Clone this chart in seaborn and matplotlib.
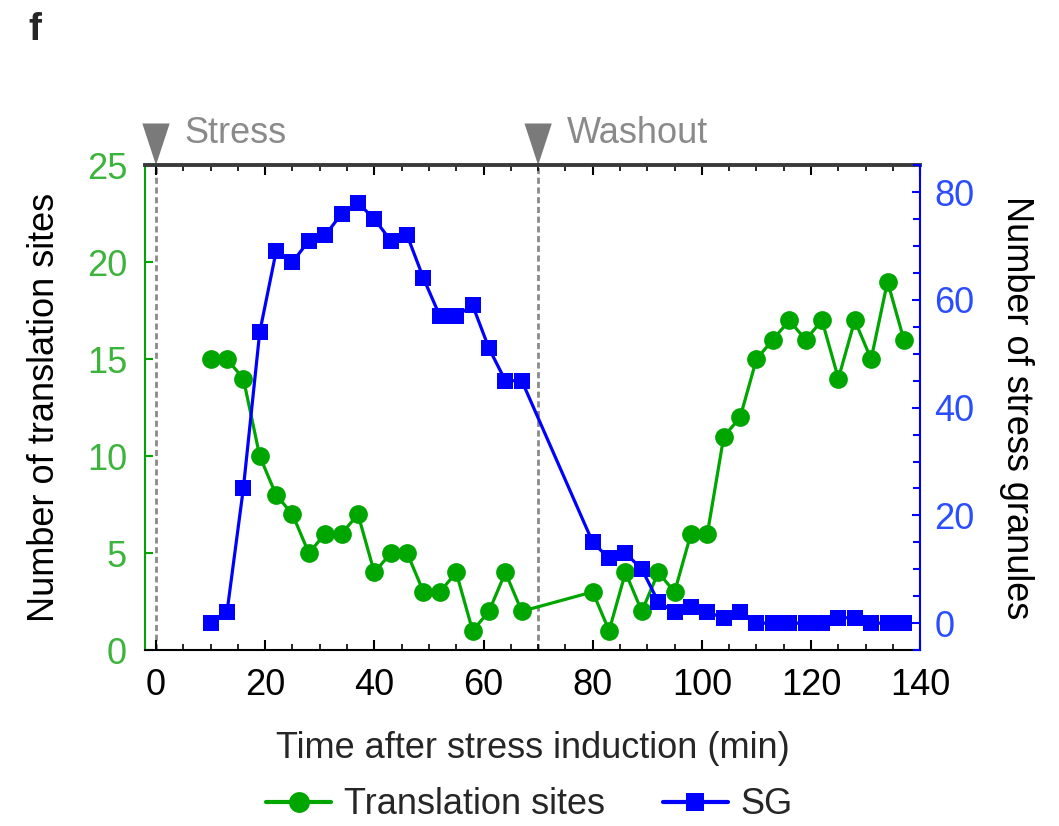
import numpy as np
import pandas as pd
import matplotlib
matplotlib.use("Agg")
import matplotlib.pyplot as plt
import matplotlib.transforms as mtransforms
from matplotlib.patches import Polygon
from matplotlib.ticker import MultipleLocator
from matplotlib.lines import Line2D
import seaborn as sns

# Data (minutes after stress induction)
time_min = [10, 13, 16, 19, 22, 25, 28, 31, 34, 37, 40, 43, 46, 49, 52, 55, 58, 61, 64, 67,
            80, 83, 86, 89, 92, 95, 98, 101, 104, 107, 110, 113, 116, 119, 122, 125, 128, 131, 134, 137]
translation_sites = [15, 15, 14, 10, 8, 7, 5, 6, 6, 7, 4, 5, 5, 3, 3, 4, 1, 2, 4, 2,
                     3, 1, 4, 2, 4, 3, 6, 6, 11, 12, 15, 16, 17, 16, 17, 14, 17, 15, 19, 16]
stress_granules = [0, 2, 25, 54, 69, 67, 71, 72, 76, 78, 75, 71, 72, 64, 57, 57, 59, 51, 45, 45,
                   15, 12, 13, 10, 4, 2, 3, 2, 1, 2, 0, 0, 0, 0, 0, 1, 1, 0, 0, 0]
events = [0, 70]
event_labels = ["Stress", "Washout"]

GREEN = "#00a600"
GREEN_TXT = "#3cb43c"
BLUE = "#0000ff"
BLUE_TXT = "#2a4dff"
GRAY = "#8a8a8a"
FS = 26

sns.set_theme(style="ticks")
plt.rcParams["font.family"] = ["Liberation Sans", "DejaVu Sans"]

df = pd.DataFrame({"time": time_min, "ts": translation_sites, "sg": stress_granules})

fig = plt.figure(figsize=(10.59, 8.26), dpi=100)
ax = fig.add_axes([0.137, 0.213, 0.732, 0.587])
ax2 = ax.twinx()

# event markers (dashed lines)
for ev in events:
    ax.axvline(ev, color=GRAY, lw=2, ls=(0, (2.2, 1.3)), zorder=0)

sns.lineplot(data=df, x="time", y="ts", ax=ax, color=GREEN, lw=2.3,
             marker="o", markersize=13.5, markeredgewidth=0, zorder=3)
sns.lineplot(data=df, x="time", y="sg", ax=ax2, color=BLUE, lw=2.3,
             marker="s", markersize=11.5, markeredgewidth=0, zorder=3)

ax.set_xlim(-2, 140)
ax.set_ylim(0, 25)
ax2.set_ylim(-5, 85)

ax.xaxis.set_major_locator(MultipleLocator(20))
ax.xaxis.set_minor_locator(MultipleLocator(5))
ax.yaxis.set_major_locator(MultipleLocator(5))
ax2.yaxis.set_major_locator(MultipleLocator(20))
ax2.yaxis.set_minor_locator(MultipleLocator(5))

ax.tick_params(axis="x", which="both", direction="in", top=True, bottom=True,
               colors="black", labelsize=FS, pad=13)
ax.tick_params(axis="x", which="major", length=7, width=1.5)
ax.tick_params(axis="x", which="minor", length=4, width=1.2)
ax.tick_params(axis="y", which="both", direction="in", colors=GREEN, labelcolor=GREEN_TXT,
               labelsize=FS, length=6, width=1.5, pad=13)
ax2.tick_params(axis="y", which="both", direction="in", colors=BLUE, labelcolor=BLUE_TXT,
                labelsize=FS, width=1.5, pad=10)
ax2.tick_params(axis="y", which="major", length=6)
ax2.tick_params(axis="y", which="minor", length=5)

for sp in ["left", "top", "bottom"]:
    ax2.spines[sp].set_visible(False)
ax.spines["right"].set_visible(False)
ax.spines["left"].set_color(GREEN)
ax.spines["left"].set_linewidth(1.5)
ax2.spines["right"].set_color(BLUE)
ax2.spines["right"].set_linewidth(1.5)
ax.spines["bottom"].set_color("black")
ax.spines["bottom"].set_linewidth(1.5)
ax.spines["top"].set_color("#3a3a3a")
ax.spines["top"].set_linewidth(2.8)

ax.set_xlabel("Time after stress induction (min)", fontsize=FS, labelpad=20)
ax.set_ylabel("Number of translation sites", fontsize=FS, labelpad=18, color="black")
ax2.set_ylabel("Number of stress granules", fontsize=FS, rotation=270, va="bottom",
               labelpad=18, color="black")

# triangles and labels above the plot
trans = mtransforms.blended_transform_factory(ax.transData, ax.transAxes)
for ev, lab in zip(events, event_labels):
    tri = Polygon([(ev - 2.5, 1.086), (ev + 2.5, 1.086), (ev, 1.0)], closed=True,
                  transform=trans, facecolor="#7a7a7a", edgecolor="none", clip_on=False)
    ax.add_patch(tri)
    ax.text(ev + 5.2, 1.065, lab, transform=trans, fontsize=FS, color=GRAY,
            ha="left", va="center")

fig.text(0.027, 0.985, "f", fontsize=28, fontweight="bold", ha="left", va="top")

handles = [Line2D([], [], color=GREEN, lw=3, marker="o", markersize=15, markeredgewidth=0),
           Line2D([], [], color=BLUE, lw=3, marker="s", markersize=13, markeredgewidth=0)]
fig.legend(handles, ["Translation sites", "SG"], loc="lower center",
           bbox_to_anchor=(0.5, -0.035), ncol=2, frameon=False, fontsize=FS,
           handlelength=1.8, handletextpad=0.35, columnspacing=1.6)

fig.savefig("out.png", dpi=100)
